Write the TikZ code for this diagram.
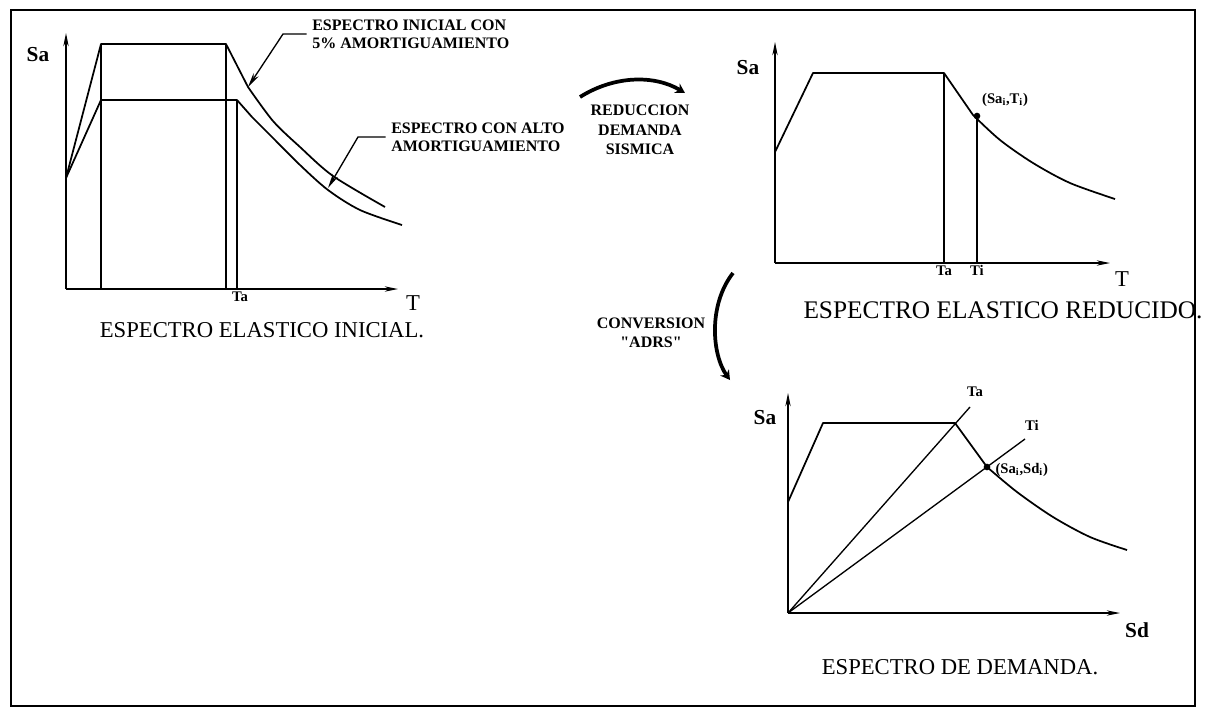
\documentclass[tikz,border=0pt]{standalone}
\usepackage{fontspec}
\setmainfont{Liberation Serif}
\usetikzlibrary{positioning,arrows.meta}

\tikzset{
  axis/.style={line width=0.9pt, -{Stealth[length=10pt,width=4pt]}},
  curve/.style={line width=1.3pt, line join=round},
  guide/.style={line width=1pt},
  leader/.style={line width=1pt, shorten <=4pt, -{Stealth[length=11pt,width=4.5pt]}},
  bigarrow/.style={line width=2.8pt, -{Stealth[length=7pt,width=8pt]}},
  lbl/.style={font=\fontsize{12}{13.5}\selectfont\bfseries, align=left, inner sep=0pt},
  midlbl/.style={font=\fontsize{12}{14.5}\selectfont\bfseries, align=center, inner sep=0pt},
  title/.style={font=\fontsize{17}{20}\selectfont, inner sep=0pt},
  axname/.style={font=\fontsize{16}{18}\selectfont\bfseries, inner sep=0pt},
  axvar/.style={font=\fontsize{17}{18}\selectfont, inner sep=0pt},
  tick/.style={font=\fontsize{11}{12}\selectfont\bfseries, inner sep=1pt},
  dot/.style={circle, fill, inner sep=0pt, minimum size=5pt},
}

\begin{document}
\begin{tikzpicture}[x=0.75pt, y=-0.75pt]
    \useasboundingbox (0,0) rectangle (1210,708);

    % Frame
    \draw[line width=1.2pt] (11,10) rectangle (1195,706);

    % ---- Initial elastic spectrum ----
    \coordinate (o1) at (66,289);
    \coordinate (ya) at (66,33);
    \coordinate (xa) at (398,289);
    \draw[axis] (o1) -- (ya);
    \draw[axis] (o1) -- (xa);
    \node[axname] (sa1) at (38,55) {Sa};
    \node[axvar] (t1) at (413,303) {T};

    % 5% damping and high damping curves
    \draw[curve] (66,178) -- (101,44) -- (226,44) -- plot[smooth] coordinates {(248,87) (273,121) (300,147) (333,176) (385,207)};
    \draw[curve] (66,178) -- (101,100) -- (237,100) -- plot[smooth] coordinates {(252,117) (273,138) (300,165) (328,190) (360,210) (402,225)};

    % Verticals
    \foreach \x/\y in {101/44, 226/44, 237/100}
      \draw[guide] (\x,\y) -- (\x,289);
    \node[tick, below] (ta1) at (240,290) {Ta};

    % Labels with leaders
    \node[lbl, anchor=west] (ini) at (312,34) {ESPECTRO INICIAL CON\\5\% AMORTIGUAMIENTO};
    \node[lbl, anchor=west] (alto) at (391,137) {ESPECTRO CON ALTO\\AMORTIGUAMIENTO};
    \coordinate (p1) at (248,87);
    \coordinate (p2) at (328,188);
    \draw[leader] (ini.west) -- ++(-29,0) -- (p1);
    \draw[leader] (alto.west) -- ++(-33,0) -- (p2);

    \node[title] (tit1) at (262,330) {ESPECTRO ELASTICO INICIAL.};

    % ---- Reduction arrow ----
    \coordinate (r1) at (580,97);
    \coordinate (r2) at (685,93);
    \draw[bigarrow] (r1) .. controls (615,75) and (655,75) .. (r2);
    \node[midlbl] (red) at (640,130) {REDUCCION\\DEMANDA\\SISMICA};

    % ---- Reduced elastic spectrum ----
    \coordinate (o2) at (775,263);
    \coordinate (yb) at (775,42);
    \coordinate (xb) at (1110,263);
    \draw[axis] (o2) -- (yb);
    \draw[axis] (o2) -- (xb);
    \node[axname] (sa2) at (748,68) {Sa};
    \node[axvar] (t2) at (1122,279) {T};

    \draw[curve] (775,152) -- (813,73) -- (944,73) -- plot[smooth] coordinates {(973,115) (1000,140) (1033,163) (1070,183) (1115,199)};
    \draw[guide] (944,73) -- (944,263);
    \node[dot] (pi) at (977,116) {};
    \draw[guide] (pi.center) -- (977,263);
    \foreach \x/\t in {944/Ta, 977/Ti}
      \node[tick, below] (tk\x) at (\x,264) {\t};
    \node[tick] (sati) at (1005,100) {(Sa\textsubscript{i},T\textsubscript{i})};

    \node[title, font=\fontsize{19}{22}\selectfont] (tit2) at (1003,310) {ESPECTRO ELASTICO REDUCIDO.};

    % ---- ADRS conversion arrow ----
    \coordinate (c1) at (733,273);
    \coordinate (c2) at (730,380);
    \draw[bigarrow] (c1) .. controls (708,305) and (712,355) .. (c2);
    \node[midlbl, font=\fontsize{12}{14}\selectfont\bfseries] (conv) at (651,333) {CONVERSION\\\textquotedbl ADRS\textquotedbl};

    % ---- Demand spectrum ----
    \coordinate (o3) at (788,613);
    \coordinate (yc) at (788,393);
    \coordinate (xc) at (1120,613);
    \draw[axis] (o3) -- (yc);
    \draw[axis] (o3) -- (xc);
    \node[axname] (sa3) at (765,418) {Sa};
    \node[axname] (sd3) at (1137,630) {Sd};

    \draw[curve] (788,502) -- (823,423) -- (955,423) -- plot[smooth] coordinates {(987,467) (1017,492) (1053,517) (1090,537) (1127,550)};
    \coordinate (ea) at (970,407);
    \coordinate (ei) at (1025,439);
    \draw[guide] (o3) -- (ea);
    \draw[guide] (o3) -- (ei);
    \node[dot] (pd) at (987,467) {};
    \node[tick] (lta) at (975,392) {Ta};
    \node[tick] (lti) at (1032,425) {Ti};
    \node[tick, anchor=west] (sasd) at (994,470) {(Sa\textsubscript{i},Sd\textsubscript{i})};

    \node[title] (tit3) at (960,667) {ESPECTRO DE DEMANDA.};

  \end{tikzpicture}
\end{document}
